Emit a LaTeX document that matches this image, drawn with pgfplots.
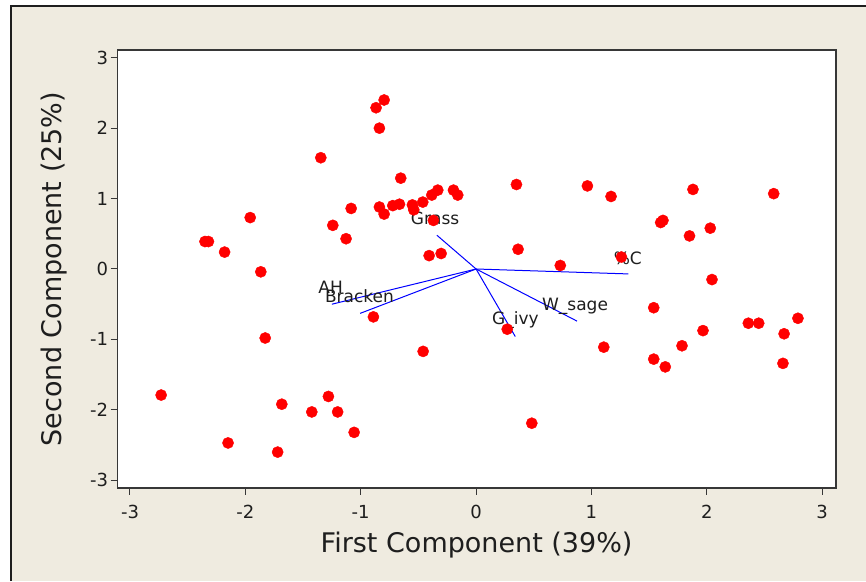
\documentclass[border=0pt]{standalone}
\usepackage{pgfplots}
\pgfplotsset{compat=1.18}
\usepackage{fontspec}
\setmainfont{DejaVu Sans}
\definecolor{bgbeige}{RGB}{239,235,224}
\definecolor{framegray}{RGB}{55,55,55}
\definecolor{txt}{RGB}{30,30,30}
\begin{document}
\begin{tikzpicture}[x=1pt,y=1pt]
\useasboundingbox (0,0) rectangle (866,581);
\fill[white] (0,0) rectangle (866,581);
\fill[bgbeige] (11,0) rectangle (866,575);
\draw[line width=1.5pt, txt] (11,0) -- (11,575) -- (866,575);
\begin{axis}[
  at={(117.3pt,93pt)}, anchor=south west,
  scale only axis, width=718.7pt, height=438pt,
  xmin=-3.11, xmax=3.12, ymin=-3.11, ymax=3.11,
  xtick={-3,-2,-1,0,1,2,3}, ytick={-3,-2,-1,0,1,2,3},
  tick align=outside, tick pos=left, major tick length=6.7pt,
  axis background/.style={fill=white},
  axis line style={framegray, line width=1.5pt},
  every tick/.style={framegray, line width=1pt},
  ticklabel style={font=\fontsize{18}{20}\selectfont, text=txt},
  /pgf/number format/assume math mode=true,
  xticklabel style={yshift=-7pt},
  yticklabel style={xshift=1pt},
  xlabel={First Component (39\%)},
  ylabel={Second Component (25\%)},
  label style={font=\fontsize{27}{30}\selectfont, text=txt},
  xlabel style={at={(axis description cs:0.5,-0.148)}, anchor=base},
  ylabel style={at={(axis description cs:-0.077,0.5)}, anchor=base},
]
\addplot[only marks, mark=*, mark size=5.6pt, color=red, mark options={draw=red, fill=red}] coordinates {
(-0.867,2.29) (-0.797,2.40) (-0.838,2.00) (-1.346,1.58) (-0.653,1.29)
(-0.332,1.12) (-0.384,1.05) (-0.196,1.12) (-0.159,1.05) (-0.838,0.88)
(-0.797,0.78) (-0.722,0.90) (-0.664,0.92) (-0.552,0.91) (-0.54,0.84)
(-0.462,0.95) (-0.370,0.69) (-1.083,0.86) (-1.242,0.62) (-1.127,0.43)
(-1.958,0.73) (-2.35,0.39) (-2.32,0.39) (-2.18,0.24) (-1.866,-0.04)
(-0.407,0.19) (-0.303,0.22) (0.35,1.20) (0.965,1.18) (1.17,1.03)
(1.88,1.13) (2.58,1.07) (1.60,0.66) (1.62,0.69) (1.85,0.47)
(2.03,0.58) (0.364,0.28) (0.73,0.05) (1.26,0.17) (2.045,-0.15)
(1.54,-0.55) (1.967,-0.875) (2.36,-0.77) (2.45,-0.77) (2.79,-0.70)
(2.67,-0.92) (2.66,-1.34) (1.785,-1.09) (1.54,-1.28) (1.64,-1.39)
(1.107,-1.11) (0.27,-0.855) (0.483,-2.19) (-0.459,-1.17) (-0.89,-0.68)
(-1.828,-0.98) (-2.73,-1.79) (-1.684,-1.92) (-1.424,-2.03) (-1.28,-1.81)
(-1.20,-2.03) (-1.057,-2.32) (-2.15,-2.47) (-1.72,-2.60)
};
\addplot[blue, line width=1pt, no marks] coordinates {(0,0) (-0.34,0.48)};
\addplot[blue, line width=1pt, no marks] coordinates {(0,0) (1.32,-0.07)};
\addplot[blue, line width=1pt, no marks] coordinates {(0,0) (0.875,-0.74)};
\addplot[blue, line width=1pt, no marks] coordinates {(0,0) (0.34,-0.96)};
\addplot[blue, line width=1pt, no marks] coordinates {(0,0) (-1.25,-0.50)};
\addplot[blue, line width=1pt, no marks] coordinates {(0,0) (-1.005,-0.63)};
\node[anchor=base, font=\fontsize{17}{19}\selectfont, text=txt, inner sep=0pt] at (axis cs:-0.355,0.638) {Grass};
\node[anchor=base, font=\fontsize{17}{19}\selectfont, text=txt, inner sep=0pt] at (axis cs:1.315,0.057) {\%C};
\node[anchor=base, font=\fontsize{17}{19}\selectfont, text=txt, inner sep=0pt] at (axis cs:0.858,-0.596) {W\_sage};
\node[anchor=base, font=\fontsize{17}{19}\selectfont, text=txt, inner sep=0pt] at (axis cs:0.341,-0.794) {G\_ivy};
\node[anchor=base, font=\fontsize{17}{19}\selectfont, text=txt, inner sep=0pt] at (axis cs:-1.261,-0.345) {AH};
\node[anchor=base, font=\fontsize{17}{19}\selectfont, text=txt, inner sep=0pt] at (axis cs:-1.011,-0.472) {Bracken};
\end{axis}
\end{tikzpicture}
\end{document}
